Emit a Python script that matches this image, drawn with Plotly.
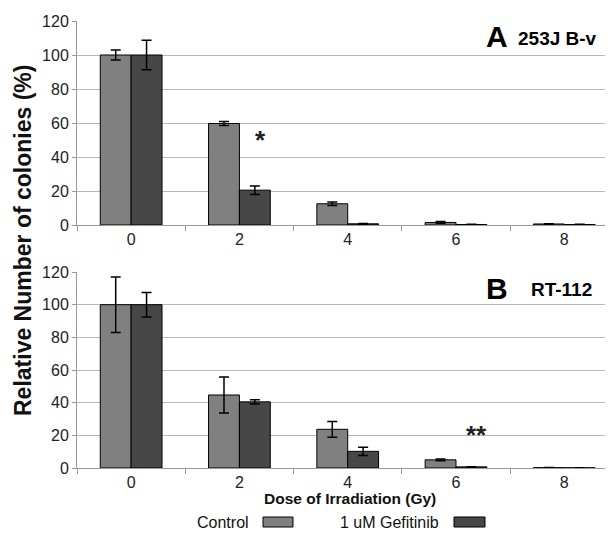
import plotly.graph_objects as go

doses = ["0", "2", "4", "6", "8"]

# Panel A: 253J B-v
a_control = [100, 59.7, 12.5, 1.5, 0.6]
a_control_err = [3, 1.2, 1.0, 0.5, 0.2]
a_gef = [100, 20.5, 0.7, 0.3, 0.3]
a_gef_err = [8.7, 2.5, 0.2, 0.1, 0.1]

# Panel B: RT-112
b_control = [100, 44.7, 23.7, 5.0, 0.2]
b_control_err = [17, 11, 4.8, 0.5, 0.1]
b_gef = [100, 40.5, 10.2, 0.7, 0.1]
b_gef_err = [7.5, 1.3, 2.5, 0.1, 0.05]

series_names = ["Control", "1 uM Gefitinib"]
colors = ["#808080", "#474747"]

# page body has an 8px margin; size the figure to fill the rest of the window
OFF = 8
W, H = 613 - OFF, 533 - OFF
FONT = "Liberation Sans, Arial, sans-serif"


def xp(px):
    return (px - OFF) / W


def yp(py):
    return 1 - (py - OFF) / H


fig = go.Figure()


def add_bars(xa, ya, data):
    for (vals, errs), name, col in zip(data, series_names, colors):
        fig.add_trace(go.Bar(
            x=doses, y=vals, name=name, xaxis=xa, yaxis=ya,
            marker=dict(color=col, line=dict(color="black", width=1)),
            error_y=dict(type="data", array=errs, visible=True,
                         color="black", thickness=1.5, width=5),
            showlegend=False))


add_bars("x", "y", [(a_control, a_control_err), (a_gef, a_gef_err)])
add_bars("x2", "y2", [(b_control, b_control_err), (b_gef, b_gef_err)])

xdom = [xp(77), 1.0]
xcommon = dict(domain=xdom, type="category", range=[-0.5, 4.45],
               automargin=False,
               showline=True, linecolor="#999999", linewidth=1,
               ticks="outside", tickson="boundaries", ticklen=5,
               tickcolor="#999999", showgrid=False,
               tickfont=dict(family=FONT, size=16, color="#222222"))
ycommon = dict(range=[0, 120], dtick=20, showline=True, linecolor="#999999",
               automargin=False,
               linewidth=1, ticks="outside", ticklen=4, tickcolor="#999999",
               showgrid=True, gridcolor="#b8b8b8", gridwidth=1, zeroline=False,
               tickfont=dict(family=FONT, size=16, color="#222222"))

fig.update_layout(
    width=W, height=H,
    margin=dict(l=0, r=0, t=0, b=0, pad=0, autoexpand=False),
    paper_bgcolor="white", plot_bgcolor="white",
    barmode="group", bargap=0.43, bargroupgap=0,
    xaxis=dict(anchor="y", **xcommon),
    yaxis=dict(anchor="x", domain=[yp(225), yp(21)], **ycommon),
    xaxis2=dict(anchor="y2", **xcommon),
    yaxis2=dict(anchor="x2", domain=[yp(468), yp(272)], **ycommon),
)


def pann(x, y, text, size, color="#111111", **kw):
    return dict(x=xp(x), y=yp(y), xref="paper", yref="paper", text=text,
                showarrow=False, xanchor="center", yanchor="middle",
                font=dict(family=FONT, size=size, color=color), **kw)


ann = []
# significance marks
ann.append(dict(x=1.19, y=50, xref="x", yref="y", text="<b>*</b>", showarrow=False,
                xanchor="center", yanchor="middle",
                font=dict(family=FONT, size=26, color="#222222")))
ann.append(dict(x=3.19, y=20, xref="x2", yref="y2", text="<b>**</b>", showarrow=False,
                xanchor="center", yanchor="middle",
                font=dict(family=FONT, size=26, color="#222222")))
# panel labels
ann.append(pann(497, 37, "<b>A</b>", 30, "black"))
ann.append(pann(557, 38, "<b>253J B-v</b>", 19, "black"))
ann.append(pann(497, 288, "<b>B</b>", 30, "black"))
ann.append(pann(561, 289, "<b>RT-112</b>", 19, "black"))
# axis titles
ann.append(pann(23, 241, "<b>Relative Number of colonies (%)</b>", 23, textangle=-90))
ann.append(pann(350, 498, "<b>Dose of Irradiation (Gy)</b>", 15.5))
# legend
ann.append(pann(223, 522, series_names[0], 16))
ann.append(pann(389, 522, series_names[1], 16))
shapes = []
for (x0, x1), col in zip([(263, 293), (454, 485)], colors):
    shapes.append(dict(type="rect", xref="paper", yref="paper",
                       x0=xp(x0), x1=xp(x1), y0=yp(527), y1=yp(517),
                       fillcolor=col, line=dict(color="black", width=1)))

fig.update_layout(annotations=ann, shapes=shapes)
fig.write_html("out.html")
